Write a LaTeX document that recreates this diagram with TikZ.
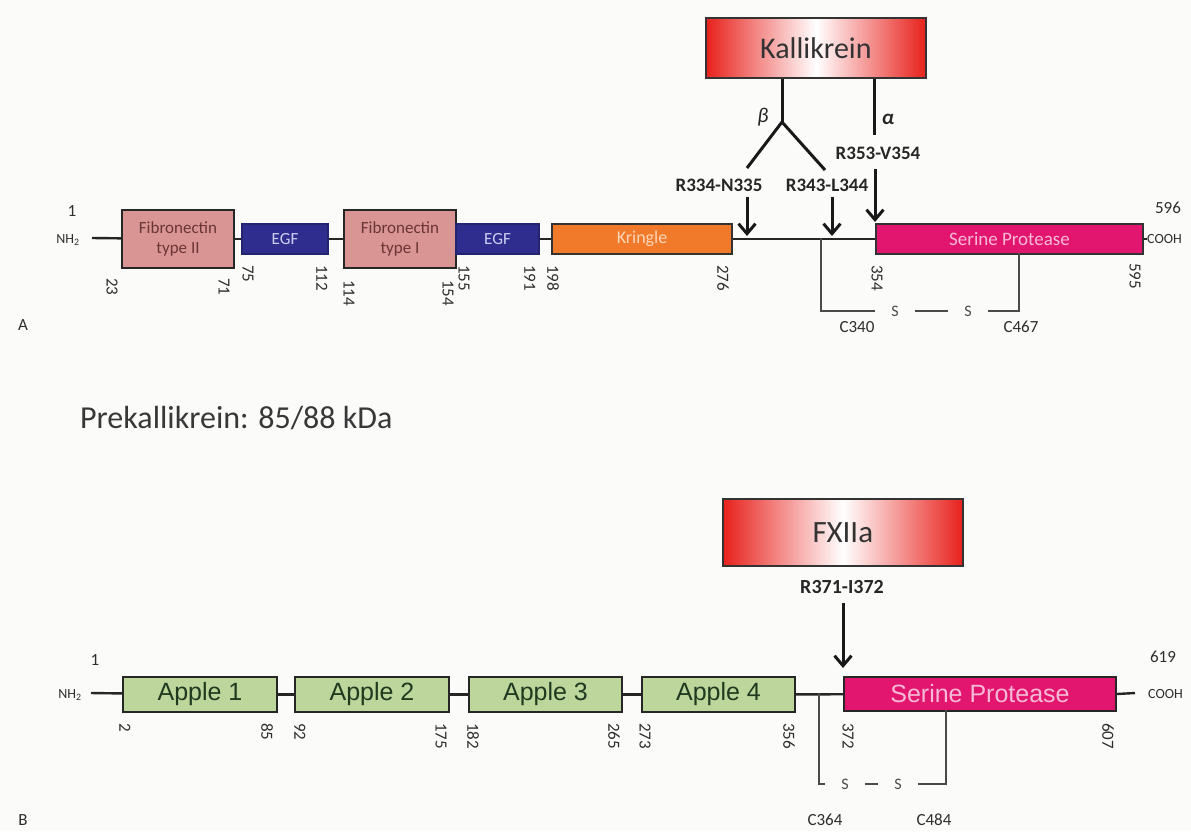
\documentclass[tikz,border=0pt]{standalone}
\usepackage{fontspec}
\setmainfont{Carlito}
\newfontfamily\arialf{Liberation Sans}
\usetikzlibrary{arrows.meta}
\definecolor{fnpink}{HTML}{D99593}
\definecolor{fntext}{HTML}{6A3535}
\definecolor{egfblue}{HTML}{2F2E8E}
\definecolor{egfedge}{HTML}{25246E}
\definecolor{egftext}{HTML}{CFCFF5}
\definecolor{kringle}{HTML}{F07A2A}
\definecolor{kringtext}{HTML}{F9D6B8}
\definecolor{serine}{HTML}{E3166F}
\definecolor{sertext}{HTML}{F7B9D7}
\definecolor{apple}{HTML}{BCD69C}
\definecolor{appletext}{HTML}{1F3A1F}
\definecolor{kred}{HTML}{E8211C}
\definecolor{ssgray}{HTML}{4A4A4A}
\definecolor{numgray}{HTML}{2E2E2E}
\definecolor{bg}{HTML}{FBFBFA}
\newcommand\fs[1]{\fontsize{#1}{#1}\selectfont}
\tikzset{
  chainline/.style={line width=2.4pt, draw=black!85},
  dombox/.style={anchor=north west, inner sep=0pt, line width=2pt, align=center},
  fnbox/.style={dombox, fill=fnpink, draw=black!85, text=fntext, font=\fontsize{17}{20}\selectfont, minimum height=58pt},
  egfbox/.style={dombox, fill=egfblue, draw=egfedge, text=egftext, font=\fs{17}, minimum height=30pt},
  krbox/.style={dombox, fill=kringle, draw=black!80, text=kringtext, font=\fs{18}, minimum height=30pt},
  serAbox/.style={dombox, fill=serine, draw=black!80, text=sertext, font=\fs{19}, minimum height=30pt},
  applebox/.style={dombox, fill=apple, draw=black!85, text=appletext, font=\arialf\fs{25}, minimum height=35pt},
  serBbox/.style={dombox, fill=serine, draw=black!85, text=sertext, font=\arialf\fs{25}, minimum height=34pt},
  enzyme/.style={anchor=north west, inner sep=0pt, draw=black!80, line width=1.8pt,
     left color=kred, right color=kred, middle color=white, text=black!80},
  posn/.style={rotate=-90, anchor=west, inner sep=0pt, font=\fs{17}, text=numgray},
  endlbl/.style={inner sep=0pt, font=\fs{17}, text=numgray},
  termlbl/.style={inner sep=0pt, font=\fs{14}, text=numgray},
  cutlbl/.style={inner sep=0pt, font=\bfseries\fs{19}, text=black!85},
  forkline/.style={line width=3pt, draw=black!90},
  arr/.style={line width=3pt, draw=black!90, -{Straight Barb[length=10pt,width=17pt]}},
  ssline/.style={line width=1.5pt, draw=ssgray},
  sslbl/.style={inner xsep=16pt, inner ysep=0pt, font=\fs{16}, text=ssgray},
  panel/.style={inner sep=0pt, font=\fs{17}, text=numgray}
}
\begin{document}
\begin{tikzpicture}[x=1pt,y=-1pt]
\fill[bg] (0,0) rectangle (1191,831);
\useasboundingbox (0,0) rectangle (1191,831);

% ---------------- Panel A ----------------
\node[fnbox, minimum width=112pt] (fn2) at (121,209) {Fibronectin\\type II};
\node[egfbox, minimum width=86pt] (egf1) at (241,223) {EGF};
\node[fnbox, minimum width=112pt] (fn1) at (343,209) {Fibronectin\\type I};
\node[egfbox, minimum width=83pt] (egf2) at (455,223) {EGF};
\node[krbox, minimum width=180pt] (kr) at (551,223) {Kringle};
\node[serAbox, minimum width=267pt] (serA) at (875,223) {Serine Protease};

\node[termlbl] (nh2A) at (68,240) {NH\textsubscript{2}};
\node[termlbl, anchor=west] (coohA) at (1147,239) {COOH};
\node[endlbl] (oneA) at (72,211) {1};
\node[endlbl] (endA) at (1168,208) {596};
\coordinate (a0) at (92,238);

\draw[chainline] (a0) -- (fn2);
\draw[chainline] (fn2) -- (egf1);
\draw[chainline] (egf1) -- (fn1);
\draw[chainline] (egf2) -- (kr);
\draw[chainline] (kr) -- (serA);
\draw[chainline] (serA.east) -- (coohA.west);

\node[posn] at (112,278) {23};
\node[posn] at (224,278) {71};
\node[posn] at (248,265) {75};
\node[posn] at (322,265) {112};
\node[posn] at (349,280) {114};
\node[posn] at (448,280) {154};
\node[posn] at (464,265) {155};
\node[posn] at (530,265) {191};
\node[posn] at (553,265) {198};
\node[posn] at (723,265) {276};
\node[posn] at (877,265) {354};
\node[posn] at (1135,263) {595};

% Kallikrein cleavage
\node[enzyme, minimum width=220pt, minimum height=60pt, font=\fs{30}] (kal) at (705,17) {Kallikrein};
\coordinate (fork) at (782,122);
\coordinate (b1) at (747,168);
\coordinate (b2) at (825,170);
\coordinate (aend) at (874,135);
\draw[forkline] (kal.south -| fork) -- (fork);
\draw[forkline] (fork) -- (b1);
\draw[forkline] (fork) -- (b2);
\draw[forkline] (kal.south -| aend) -- (aend);
\node[inner sep=0pt, font=\itshape\fs{21}, text=black!85] (beta) at (763,117) {β};
\node[inner sep=0pt, font=\bfseries\itshape\fs{21}, text=black!85] (alpha) at (888,119) {α};

\node[cutlbl] (r334) at (719,185) {R334-N335};
\node[cutlbl] (r343) at (827,185) {R343-L344};
\node[cutlbl] (r353) at (878,153) {R353-V354};
\coordinate (t1) at (747,236);
\coordinate (t2) at (832,236);
\draw[arr, shorten <=5pt] (t1 |- r334.south) -- (t1);
\draw[arr, shorten <=5pt] (t2 |- r343.south) -- (t2);
\draw[arr, shorten <=9pt, shorten >=1pt] (serA.north west |- r353.south) -- (serA.north west);

% disulfide A
\coordinate (d1) at (821,238);
\coordinate (d2) at (821,311);
\node[sslbl] (s1) at (895,311) {S};
\node[sslbl] (s2) at (968,311) {S};
\coordinate (d3) at (1019,311);
\coordinate (d4) at (1019,253);
\draw[ssline] (d1) -- (d2) -- (s1.west);
\draw[ssline] (s1.east) -- (s2.west);
\draw[ssline] (s2.east) -- (d3) -- (d4);
\node[endlbl] (c340) at (857,327) {C340};
\node[endlbl] (c467) at (1021,327) {C467};

\node[panel] (pA) at (23,325) {A};

\node[inner sep=0pt, anchor=west, font=\fs{32}, text=black!78] (title) at (80,418) {Prekallikrein: 85/88 kDa};

% ---------------- Panel B ----------------
\node[applebox, minimum width=154pt] (ap1) at (122,676) {Apple 1};
\node[applebox, minimum width=154pt] (ap2) at (294,676) {Apple 2};
\node[applebox, minimum width=153pt] (ap3) at (468,676) {Apple 3};
\node[applebox, minimum width=153pt] (ap4) at (641,676) {Apple 4};
\node[serBbox, minimum width=272pt] (serB) at (843,676) {Serine Protease};

\node[termlbl] (nh2B) at (70,695) {NH\textsubscript{2}};
\node[termlbl, anchor=west] (coohB) at (1148,694) {COOH};
\node[endlbl] (oneB) at (95,660) {1};
\node[endlbl] (endB) at (1163,657) {619};
\coordinate (bb0) at (91,693);
\coordinate (bb1) at (1135,693);

\draw[chainline] (bb0) -- (ap1);
\draw[chainline] (ap1) -- (ap2);
\draw[chainline] (ap2) -- (ap3);
\draw[chainline] (ap3) -- (ap4);
\draw[chainline] (ap4) -- (serB);
\draw[chainline] (serB.east) -- (bb1);

\node[posn] at (125,723) {2};
\node[posn] at (267,723) {85};
\node[posn] at (300,723) {92};
\node[posn] at (441,723) {175};
\node[posn] at (473,723) {182};
\node[posn] at (614,723) {265};
\node[posn] at (645,723) {273};
\node[posn] at (789,723) {356};
\node[posn] at (848,723) {372};
\node[posn] at (1108,723) {607};

\node[enzyme, minimum width=240pt, minimum height=67pt, font=\fs{31}] (fxii) at (722,498) {FXIIa};
\node[cutlbl, font=\bfseries\fs{20}] (r371) at (842,587) {R371-I372};
\draw[arr, shorten <=9pt, shorten >=8pt] (serB.north west |- r371.south) -- (serB.north west);

% disulfide B
\coordinate (e1) at (819,693);
\coordinate (e2) at (819,784);
\node[sslbl] (s3) at (845,784) {S};
\node[sslbl] (s4) at (898,784) {S};
\coordinate (e3) at (946,784);
\coordinate (e4) at (946,710);
\draw[ssline] (e1) -- (e2) -- (s3.west);
\draw[ssline] (s3.east) -- (s4.west);
\draw[ssline] (s4.east) -- (e3) -- (e4);
\node[endlbl] (c364) at (825,820) {C364};
\node[endlbl] (c484) at (934,820) {C484};

\node[panel] (pB) at (23,820) {B};
\end{tikzpicture}
\end{document}
